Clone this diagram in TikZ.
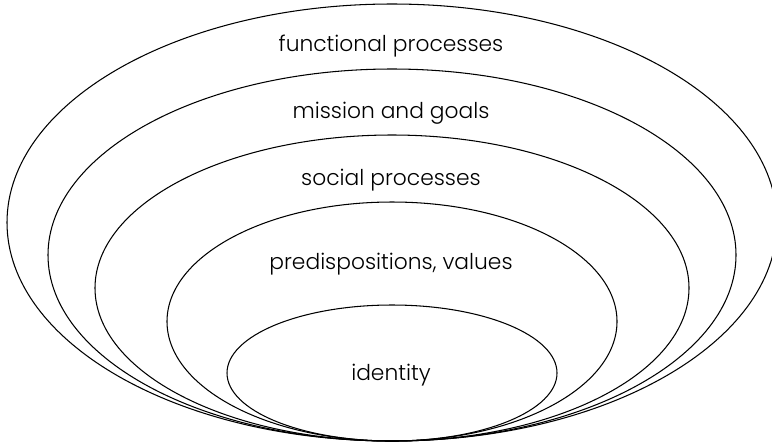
\documentclass[tikz,border=0pt]{standalone}
\usepackage{fontspec}
\setmainfont{Poppins}[UprightFont=* Light]
\usepackage{tikz}

\tikzset{ring/.style={line width=0.6pt},
  lbl/.style={font=\fontsize{12.4}{15}\selectfont, inner sep=0pt}}

\begin{document}
\begin{tikzpicture}[x=0.2mm,y=-0.2mm]
        \useasboundingbox (0,0) rectangle (772,443);
        % nested rings, all touching at the bottom
        \foreach \t/\w in {4/385,69/344,135/297,202/225,305/165}
        \draw[ring] (392,{(\t+441)/2}) ellipse [x radius=\w, y radius={(441-\t)/2}];
        \node[lbl] (functional) at (391,46) {functional processes};
        \node[lbl] (mission) at (391,113) {mission and goals};
        \node[lbl] (social) at (391,180) {social processes};
        \node[lbl] (predisp) at (391,264) {predispositions, values};
        \node[lbl] (identity) at (391,375) {identity};
    \end{tikzpicture}
\end{document}
